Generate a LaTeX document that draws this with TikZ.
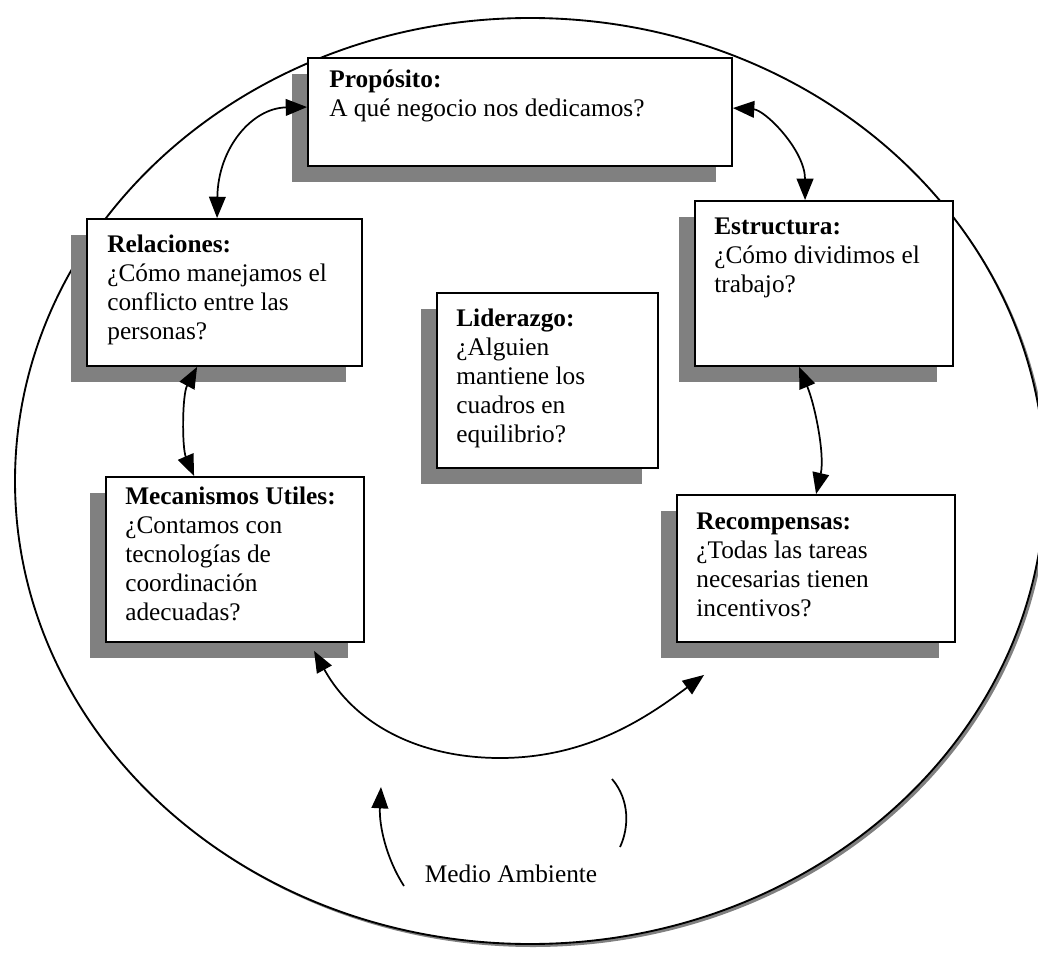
\documentclass[tikz,border=0pt]{standalone}
\usepackage{fontspec}
\setmainfont{Liberation Serif}
\usetikzlibrary{arrows.meta,shadows,fit}
\newcommand{\boxfont}{\fontsize{19}{21.75}\selectfont}
\newcommand{\stacklines}[1]{\begin{tabular}[t]{@{}l@{}}#1\end{tabular}}

\begin{document}
\begin{tikzpicture}[x=0.75pt,y=-0.75pt,
  >={Triangle[length=16pt,width=12.5pt]},
  panel/.style={draw, line width=1.4pt, fill=white, inner sep=0pt,
    drop shadow={shadow xshift=-12pt, shadow yshift=-12pt, opacity=1, fill=black!50}},
  caption/.style={anchor=base west, inner sep=0pt, font=\boxfont},
  link/.style={line width=1.3pt, <->},
  plain/.style={line width=1.3pt},
]
\useasboundingbox (0,0) rectangle (1038,955);

% surrounding environment: ellipse with a shadow to the lower right
\fill[black!50] (533,484) ellipse [x radius=386.25pt, y radius=347.25pt];
\draw[line width=1.4pt, fill=white] (530,481) ellipse [x radius=386.25pt, y radius=347.25pt];

% the six boxes
\node[panel, fit={(308,58) (732,166)}] (prop) {};
\node[panel, fit={(87,219) (362,366)}] (rel) {};
\node[panel, fit={(695,201) (953,366)}] (est) {};
\node[panel, fit={(437,293) (658,468)}] (lid) {};
\node[panel, fit={(106,477) (364,642)}] (mec) {};
\node[panel, fit={(677,495) (955,642)}] (rec) {};

% box texts
\node[caption] (propT) at ([shift={(22,30)}]prop.north west)
  {\stacklines{\textbf{Propósito:}\\A qué negocio nos dedicamos?}};
\node[caption] (relT) at ([shift={(21,34)}]rel.north west)
  {\stacklines{\textbf{Relaciones:}\\¿Cómo manejamos el\\conflicto entre las\\personas?}};
\node[caption] (estT) at ([shift={(20,34)}]est.north west)
  {\stacklines{\textbf{Estructura:}\\¿Cómo dividimos el\\trabajo?}};
\node[caption] (lidT) at ([shift={(20,34)}]lid.north west)
  {\stacklines{\textbf{Liderazgo:}\\¿Alguien\\mantiene los\\cuadros en\\equilibrio?}};
\node[caption] (mecT) at ([shift={(20,28)}]mec.north west)
  {\stacklines{\textbf{Mecanismos Utiles:}\\¿Contamos con\\tecnologías de\\coordinación\\adecuadas?}};
\node[caption] (recT) at ([shift={(20,35)}]rec.north west)
  {\stacklines{\textbf{Recompensas:}\\¿Todas las tareas\\necesarias tienen\\incentivos?}};

% two-way links between the boxes
\draw[link] ([shift={(131,0)}]rel.north west)
  .. controls (218,148) and (252,108) .. ([shift={(0,50)}]prop.north west);
\draw[link] ([shift={(0,51)}]prop.north east)
  .. controls (765,110) and (805,150) .. ([shift={(111,0)}]est.north west);
\draw[link] ([shift={(111,0)}]rel.south west)
  .. controls (182,395) and (182,448) .. ([shift={(89,0)}]mec.north west);
\draw[link] ([shift={(105,0)}]est.south west)
  .. controls (815,405) and (825,455) .. ([shift={(140,0)}]rec.north west);
\coordinate (arcLow) at (500,758);
\draw[link] ([shift={(209,8)}]mec.south west)
  .. controls (355,725) and (420,758) .. (arcLow)
  .. controls (590,758) and (650,715) .. ([shift={(28,32)}]rec.south west);

% environment label and its two strokes
\node[font=\boxfont, anchor=base, inner sep=0pt] (env) at (511,882) {Medio Ambiente};
\coordinate (envA0) at (404,886);
\coordinate (envA1) at (381,787);
\draw[plain, ->] (envA0) .. controls (386,858) and (379,825) .. (envA1);
\coordinate (envB0) at (612,779);
\coordinate (envB1) at (620,847);
\draw[plain] (envB0) .. controls (630,800) and (629,828) .. (envB1);
\end{tikzpicture}
\end{document}
